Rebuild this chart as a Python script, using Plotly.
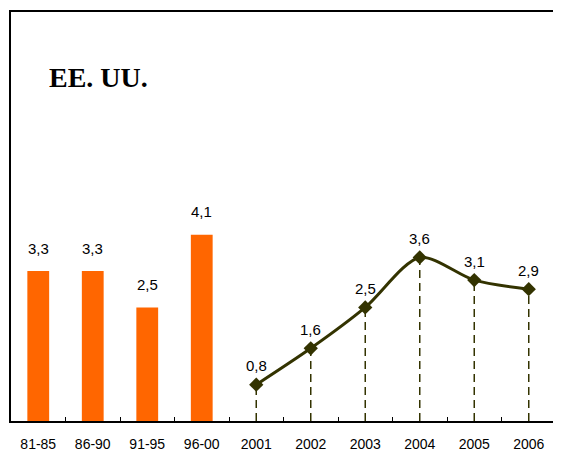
import plotly.graph_objects as go

categories = ["81-85", "86-90", "91-95", "96-00", "2001", "2002", "2003", "2004", "2005", "2006"]
bar_cats = ["81-85", "86-90", "91-95", "96-00"]
bar_vals = [3.3, 3.3, 2.5, 4.1]
line_cats = ["2001", "2002", "2003", "2004", "2005", "2006"]
line_vals = [0.8, 1.6, 2.5, 3.6, 3.1, 2.9]
title_text = "EE. UU."

ORANGE = "#FF6600"
OLIVE = "#333300"
LABEL_FONT = dict(family="Liberation Sans, Arial", size=15, color="black")
TICK_FONT = dict(family="Liberation Sans, Arial", size=14, color="black")

def fmt(v):
    return f"{v:.1f}".replace(".", ",")

fig = go.Figure()
fig.add_trace(go.Bar(x=bar_cats, y=bar_vals, marker=dict(color=ORANGE, line=dict(width=0)),
                     width=0.4, hoverinfo="skip"))
for c, v in zip(line_cats, line_vals):
    fig.add_trace(go.Scatter(x=[c, c], y=[0, v], mode="lines",
                             line=dict(color=OLIVE, width=1.5, dash="8px,5px"), hoverinfo="skip"))
fig.add_trace(go.Scatter(x=line_cats, y=line_vals, mode="lines+markers",
                         line=dict(color=OLIVE, width=3, shape="spline", smoothing=0.8),
                         marker=dict(symbol="diamond", size=11, color=OLIVE)))

annotations = []
for c, v in zip(bar_cats, bar_vals):
    annotations.append(dict(x=categories.index(c), y=v, text=fmt(v), showarrow=False,
                            yanchor="middle", yshift=23, font=LABEL_FONT))
for c, v in zip(line_cats, line_vals):
    annotations.append(dict(x=categories.index(c), y=v, text=fmt(v), showarrow=False,
                            yanchor="middle", yshift=19, font=LABEL_FONT))
annotations.append(dict(xref="paper", yref="paper", x=0.066, y=0.839, xanchor="left", yanchor="middle",
                        text="<b>" + title_text + "</b>", showarrow=False,
                        font=dict(family="Liberation Serif, Times New Roman, serif", size=28, color="black")))

fig.update_layout(
    width=561, height=452,
    margin=dict(l=3, r=13, t=2, b=39),
    paper_bgcolor="white", plot_bgcolor="white",
    showlegend=False,
    annotations=annotations,
    xaxis=dict(type="category", categoryorder="array", categoryarray=categories,
               range=[-0.5, len(categories) - 0.5],
               showline=True, linecolor="black", linewidth=1.5, mirror=True,
               ticks="inside", tickson="boundaries", ticklen=4, tickcolor="black",
               ticklabelstandoff=9,
               showgrid=False, zeroline=False,
               tickfont=TICK_FONT),
    yaxis=dict(range=[0, 9], showline=True, linecolor="black", linewidth=1.5, mirror=True,
               showticklabels=False, ticks="", showgrid=False, zeroline=False),
)
fig.write_html("out.html")
